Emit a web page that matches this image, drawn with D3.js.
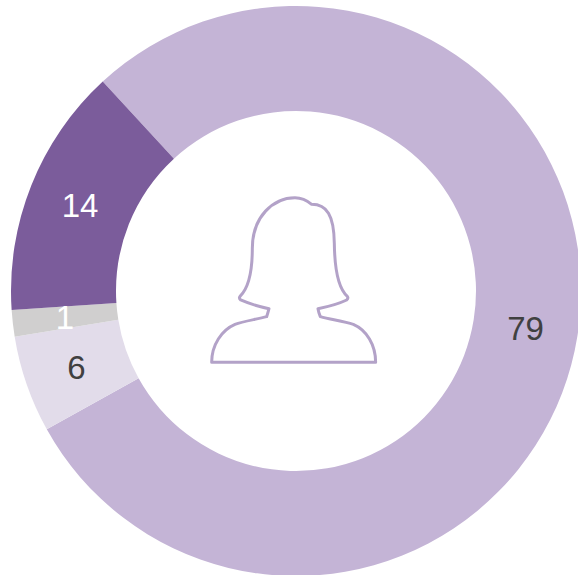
<!DOCTYPE html>
<html>
<head>
<meta charset="utf-8">
<script src="https://d3js.org/d3.v7.min.js"></script>
<style>
  html, body { margin: 0; padding: 0; background: #fff; overflow: hidden; }
  svg { display: block; }
</style>
</head>
<body>
<svg id="mychart" width="578" height="575"></svg>
<script>
// slice sizes, labels as printed on it
const categories = ["a", "b", "c", "d"];
const values = [78.8, 5.5, 1.5, 14.2];
const labels = ["79", "6", "1", "14"];
const colors = ["#c4b4d6", "#e2dcea", "#d0cfcf", "#7b5c9b"];
const labelColors = ["#404040", "#404040", "#ffffff", "#ffffff"];

const cx = 296, cy = 291, outer = 285, inner = 180;
const startAngle = (-42.7 * Math.PI) / 180;

const svg = d3.select("#mychart");
const g = svg.append("g").attr("transform", `translate(${cx},${cy})`);

const pie = d3
  .pie()
  .sort(null)
  .value((d) => values[d])
  .startAngle(startAngle)
  .endAngle(startAngle + 2 * Math.PI);
const arc = d3.arc().innerRadius(inner).outerRadius(outer);
const arcs = pie(d3.range(categories.length));

g.selectAll("path")
  .data(arcs)
  .join("path")
  .attr("d", arc)
  .style("fill", (d) => colors[d.data]);

g.selectAll("text")
  .data(arcs)
  .join("text")
  .attr("x", (d) => arc.centroid(d)[0])
  .attr("y", (d) => arc.centroid(d)[1])
  .attr("dy", "0.36em")
  .attr("text-anchor", "middle")
  .style("font-family", "'Liberation Sans', Arial, sans-serif")
  .style("font-size", "33px")
  .style("fill", (d) => labelColors[d.data])
  .text((d) => labels[d.data]);

// woman outline in the middle of the ring
svg
  .append("path")
  .attr("transform", "translate(190,180) scale(0.3333)")
  .attr(
    "d",
    "M65,547 C65,495 95,450 135,433 C160,424 200,418 230,410 Q234,398 237,386 C205,380 175,370 152,360 Q146,354 150,349 C175,325 187,270 187,205 C187,110 250,53 315,53 C335,53 352,62 365,73 C410,73 432,105 433,190 C434,270 445,325 472,349 Q476,354 470,360 C445,372 415,380 384,386 Q386,398 391,410 C420,418 460,424 490,433 C530,450 557,495 557,547 Z"
  )
  .style("fill", "none")
  .style("stroke", "#b3a2c8")
  .style("stroke-width", 9)
  .style("stroke-linejoin", "round");
</script>
</body>
</html>
